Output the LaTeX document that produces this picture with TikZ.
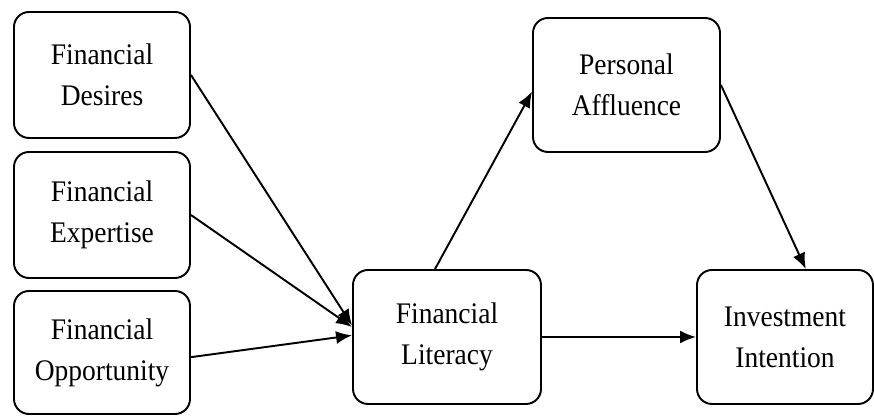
\documentclass[tikz,border=0pt]{standalone}
\usepackage{fontspec}
\setmainfont{Liberation Serif}[FakeStretch=0.92]
\usetikzlibrary{arrows.meta}

\begin{document}
\begin{tikzpicture}[
    factor/.style={draw,line width=1.1pt,rounded corners=0.3cm,align=center,
        font=\fontsize{17}{23.2}\selectfont,inner sep=0pt},
    path/.style={-{Latex[length=0.32cm,width=0.26cm]},line width=1.1pt}
]
                \useasboundingbox (0,0) rectangle (17.48,8.32);
                \node [factor,minimum width=3.52cm,minimum height=2.52cm] (desires) at (2.04,6.82) {Financial\\Desires};
                \node [factor,minimum width=3.52cm,minimum height=2.52cm] (expertise) at (2.04,4.02) {Financial\\Expertise};
                \node [factor,minimum width=3.52cm,minimum height=2.46cm] (opportunity) at (2.04,1.27) {Financial\\Opportunity};
                \node [factor,minimum width=3.76cm,minimum height=2.68cm] (literacy) at (8.94,1.58) {Financial\\Literacy};
                \node [factor,minimum width=3.74cm,minimum height=2.68cm] (affluence) at (12.53,6.62) {Personal\\Affluence};
                \node [factor,minimum width=3.52cm,minimum height=2.68cm] (intention) at (15.70,1.58) {Investment\\Intention};
                \draw [path] (desires.east) -- (literacy.173);
                \draw [path] (expertise.east) -- (literacy.174);
                \draw [path] (opportunity.-3) -- (literacy.179);
                \draw [path] (literacy.100) -- (affluence.184);
                \draw [path] (affluence.east) -- (intention.73);
                \draw [path] (literacy.east) -- (literacy.east -| intention.west);
            \end{tikzpicture}
\end{document}
